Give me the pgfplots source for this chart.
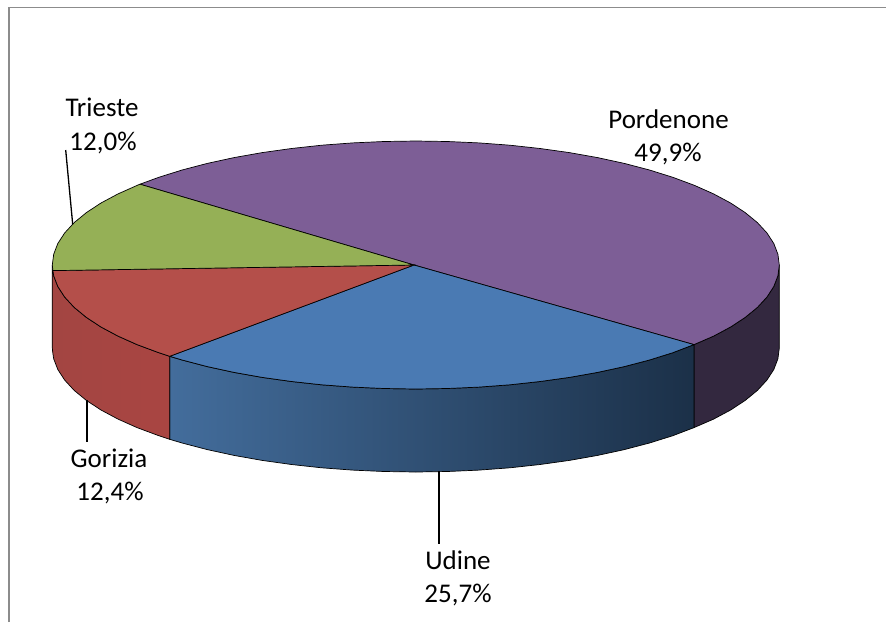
\documentclass[border=0pt]{standalone}
\usepackage{fontspec}
\setmainfont{Carlito}
\usepackage{pgfplots}
\pgfplotsset{compat=1.18}
\definecolor{pordtop}{HTML}{7D5E96}
\definecolor{udtop}{HTML}{4A7AB3}
\definecolor{gortop}{HTML}{B44F4A}
\definecolor{trtop}{HTML}{95B056}
\definecolor{pordside}{HTML}{33283F}
\definecolor{udsideL}{HTML}{436D9C}
\definecolor{udsideM}{HTML}{335682}
\definecolor{udsideR}{HTML}{1B3048}
\definecolor{gorsideL}{HTML}{A34542}
\definecolor{gorsideR}{HTML}{A94542}
\definecolor{frameg}{HTML}{8C8C8C}
\begin{document}
\begin{tikzpicture}
\useasboundingbox (0,0) rectangle (886pt,622pt);
\begin{axis}[
  scale only axis, width=886pt, height=622pt,
  xmin=0, xmax=886, ymin=0, ymax=622, y dir=reverse,
  hide axis, clip=false,
]
% frame
\addplot[frameg, line width=1.8pt] coordinates {(8.7,622) (8.7,7.5) (886,7.5)};
% sides
\addplot[draw=black, line width=0.7pt, fill=pordside] coordinates {
(694,344.6)(713.6,336.1)(730.6,327)(745.2,317.4)(757.4,307.4)(766.9,297.1)(773.8,286.5)(777.9,275.8)(779.3,265)
(779.3,348)(777.9,358.8)(773.8,369.5)(766.9,380.1)(757.4,390.4)(745.2,400.4)(730.6,410)(713.6,419.1)(694,427.6)} -- cycle;
\addplot[draw=black, line width=0.7pt, left color=udsideL, middle color=udsideM, right color=udsideR] coordinates {
(169.7,356.3)(182.1,360)(207.3,366.6)(234,372.4)(262.2,377.4)(291.5,381.5)(321.7,384.8)(352.7,387.1)(384.1,388.5)(415.8,389)(447.5,388.5)(478.9,387.1)(509.9,384.8)(540.1,381.5)(569.4,377.4)(597.6,372.4)(624.3,366.6)(649.5,360)(672.8,352.7)(694,344.6)
(694,427.6)(672.8,435.7)(649.5,443)(624.3,449.6)(597.6,455.4)(569.4,460.4)(540.1,464.5)(509.9,467.8)(478.9,470.1)(447.5,471.5)(415.8,472)(384.1,471.5)(352.7,470.1)(321.7,467.8)(291.5,464.5)(262.2,460.4)(234,455.4)(207.3,449.6)(182.1,443)(169.7,439.3)} -- cycle;
\addplot[draw=black, line width=0.7pt, left color=gorsideL, right color=gorsideR] coordinates {
(52.3,265)(52.9,270.6)(53.7,275.8)(57.8,286.5)(64.7,297.1)(74.2,307.4)(86.4,317.4)(101,327)(118,336.1)(137.3,344.7)(158.8,352.7)(169.7,356.3)
(169.7,439.3)(158.8,435.7)(137.3,427.7)(118,419.1)(101,410)(86.4,400.4)(74.2,390.4)(64.7,380.1)(57.8,369.5)(53.7,358.8)(52.9,353.6)(52.3,348)} -- cycle;
% tops
\addplot[draw=black, line width=0.7pt, fill=pordtop] coordinates {
(414,265)(140,184.2)(158.8,177.3)(182.1,170)(207.3,163.4)(234,157.6)(262.2,152.6)(291.5,148.5)(321.7,145.2)(352.7,142.9)(384.1,141.5)(415.8,141)(447.5,141.5)(478.9,142.9)(509.9,145.2)(540.1,148.5)(569.4,152.6)(597.6,157.6)(624.3,163.4)(649.5,170)(672.8,177.3)(694.3,185.3)(713.6,193.9)(730.6,203)(745.2,212.6)(757.4,222.6)(766.9,232.9)(773.8,243.5)(777.9,254.2)(779.3,265)(777.9,275.8)(773.8,286.5)(766.9,297.1)(757.4,307.4)(745.2,317.4)(730.6,327)(713.6,336.1)(694,344.6)} -- cycle;
\addplot[draw=black, line width=0.7pt, fill=udtop] coordinates {
(414,265)(694,344.6)(672.8,352.7)(649.5,360)(624.3,366.6)(597.6,372.4)(569.4,377.4)(540.1,381.5)(509.9,384.8)(478.9,387.1)(447.5,388.5)(415.8,389)(384.1,388.5)(352.7,387.1)(321.7,384.8)(291.5,381.5)(262.2,377.4)(234,372.4)(207.3,366.6)(182.1,360)(169.7,356.3)} -- cycle;
\addplot[draw=black, line width=0.7pt, fill=gortop] coordinates {
(414,265)(169.7,356.3)(158.8,352.7)(137.3,344.7)(118,336.1)(101,327)(86.4,317.4)(74.2,307.4)(64.7,297.1)(57.8,286.5)(53.7,275.8)(52.9,270.6)} -- cycle;
\addplot[draw=black, line width=0.7pt, fill=trtop] coordinates {
(414,265)(52.9,270.6)(52.3,265)(53.7,254.2)(57.8,243.5)(64.7,232.9)(74.2,222.6)(86.4,212.6)(101,203)(118,193.9)(137.3,185.3)(140,184.2)} -- cycle;
% leaders
\addplot[black, line width=1.3pt] coordinates {(65.7,150)(72.7,224.3)};
\addplot[black, line width=1.3pt] coordinates {(87,400)(87,442)};
\addplot[black, line width=1.3pt] coordinates {(439,471)(439,544)};
% labels
\node[anchor=base, font=\fontsize{27}{27}\selectfont, text=black, inner sep=0pt] at (axis cs:102,116.7) {Trieste};
\node[anchor=base, font=\fontsize{27}{27}\selectfont, text=black, inner sep=0pt] at (axis cs:103,150) {12,0\%};
\node[anchor=base, font=\fontsize{27}{27}\selectfont, text=black, inner sep=0pt] at (axis cs:668.5,128) {Pordenone};
\node[anchor=base, font=\fontsize{27}{27}\selectfont, text=black, inner sep=0pt] at (axis cs:668,161) {49,9\%};
\node[anchor=base, font=\fontsize{27}{27}\selectfont, text=black, inner sep=0pt] at (axis cs:109,467) {Gorizia};
\node[anchor=base, font=\fontsize{27}{27}\selectfont, text=black, inner sep=0pt] at (axis cs:110,500.7) {12,4\%};
\node[anchor=base, font=\fontsize{27}{27}\selectfont, text=black, inner sep=0pt] at (axis cs:458,569) {Udine};
\node[anchor=base, font=\fontsize{27}{27}\selectfont, text=black, inner sep=0pt] at (axis cs:458,602) {25,7\%};
\end{axis}
\end{tikzpicture}
\end{document}
